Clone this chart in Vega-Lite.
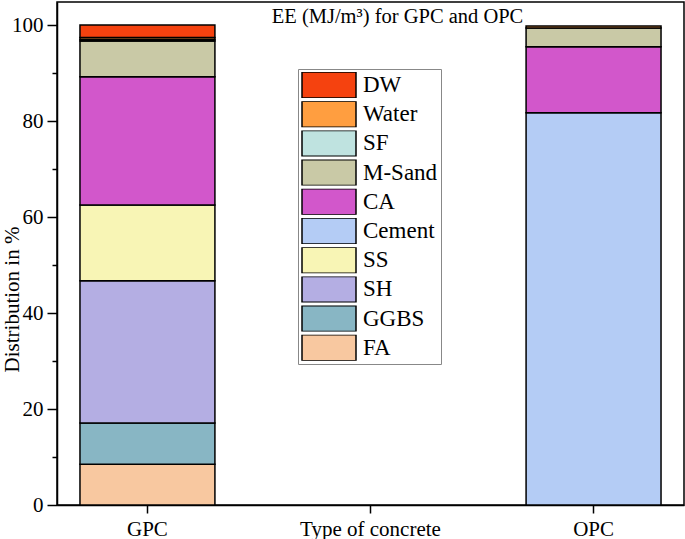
{
  "$schema": "https://vega.github.io/schema/vega-lite/v6.json",
  "autosize": {"type": "none"},
  "width": 627,
  "height": 503,
  "padding": {"left": 57, "top": 2, "right": 1, "bottom": 34},
  "background": "white",
  "title": {
    "text": "EE (MJ/m³) for GPC and OPC",
    "font": "Liberation Serif",
    "fontSize": 20.5,
    "fontWeight": "normal",
    "color": "black",
    "anchor": "middle",
    "dx": 27,
    "offset": -41,
    "baseline": "alphabetic"
  },
  "config": {
    "view": {"stroke": "black", "strokeWidth": 1.5},
    "axis": {
      "labelFont": "Liberation Serif",
      "titleFont": "Liberation Serif",
      "labelColor": "black",
      "titleColor": "black",
      "domainColor": "black",
      "tickColor": "black",
      "domainWidth": 1.5,
      "tickWidth": 1.5,
      "grid": false
    },
    "legend": {
      "labelFont": "Liberation Serif"
    }
  },
  "data": {
    "values": [
      {"concrete": "GPC", "component": "FA", "value": 8.5, "rank": 1},
      {"concrete": "GPC", "component": "GGBS", "value": 8.6, "rank": 2},
      {"concrete": "GPC", "component": "SH", "value": 29.6, "rank": 3},
      {"concrete": "GPC", "component": "SS", "value": 15.8, "rank": 4},
      {"concrete": "GPC", "component": "CA", "value": 26.7, "rank": 6},
      {"concrete": "GPC", "component": "M-Sand", "value": 7.5, "rank": 7},
      {"concrete": "GPC", "component": "SF", "value": 0.3, "rank": 8},
      {"concrete": "GPC", "component": "Water", "value": 0.4, "rank": 9},
      {"concrete": "GPC", "component": "DW", "value": 2.6, "rank": 10},
      {"concrete": "OPC", "component": "Cement", "value": 81.7, "rank": 5},
      {"concrete": "OPC", "component": "CA", "value": 13.8, "rank": 6},
      {"concrete": "OPC", "component": "M-Sand", "value": 3.9, "rank": 7},
      {"concrete": "OPC", "component": "Water", "value": 0.4, "rank": 9}
    ]
  },
  "mark": {"type": "bar", "stroke": "black", "strokeWidth": 1.5},
  "encoding": {
    "x": {
      "field": "concrete",
      "type": "nominal",
      "scale": {"domain": ["GPC", "Type of concrete", "OPC"], "paddingInner": 0.395, "paddingOuter": 0.103},
      "axis": {
        "title": null,
        "labelAngle": 0,
        "labelFontSize": 21,
        "labelPadding": 5,
        "tickSize": 8
      }
    },
    "y": {
      "field": "value",
      "type": "quantitative",
      "stack": "zero",
      "scale": {"domain": [0, 104.8], "nice": false},
      "axis": {
        "title": "Distribution in %",
        "titleFontSize": 21,
        "titleFontWeight": "normal",
        "titleAngle": -90,
        "titleX": -45,
        "titleY": 297,
        "titleAlign": "center",
        "titleBaseline": "middle",
        "values": [0, 10, 20, 30, 40, 50, 60, 70, 80, 90, 100],
        "labelExpr": "datum.value % 20 === 0 ? datum.label : ''",
        "labelFontSize": 21,
        "labelPadding": 4,
        "tickSize": {"condition": {"test": "datum.value % 20 !== 0", "value": 5}, "value": 10}
      }
    },
    "order": {"field": "rank", "type": "quantitative", "sort": "ascending"},
    "color": {
      "field": "component",
      "type": "nominal",
      "scale": {
        "domain": ["DW", "Water", "SF", "M-Sand", "CA", "Cement", "SS", "SH", "GGBS", "FA"],
        "range": ["#F5420F", "#FF9E40", "#BFE3E0", "#C9C9A6", "#D257CB", "#B4CCF5", "#F8F5B5", "#B4AEE3", "#88B6C4", "#F8C8A0"]
      },
      "legend": {
        "title": null,
        "orient": "none",
        "legendX": 241,
        "legendY": 67,
        "padding": 3,
        "strokeColor": "#888888",
        "fillColor": "white",
        "symbolType": "M-1,-0.48H1V0.48H-1Z",
        "symbolSize": 2916,
        "symbolStrokeColor": "black",
        "symbolStrokeWidth": 1.5,
        "symbolOpacity": 1,
        "clipHeight": 26,
        "rowPadding": 3.2,
        "labelFontSize": 23,
        "labelColor": "black",
        "labelOffset": 6,
        "labelLimit": 200
      }
    }
  }
}
